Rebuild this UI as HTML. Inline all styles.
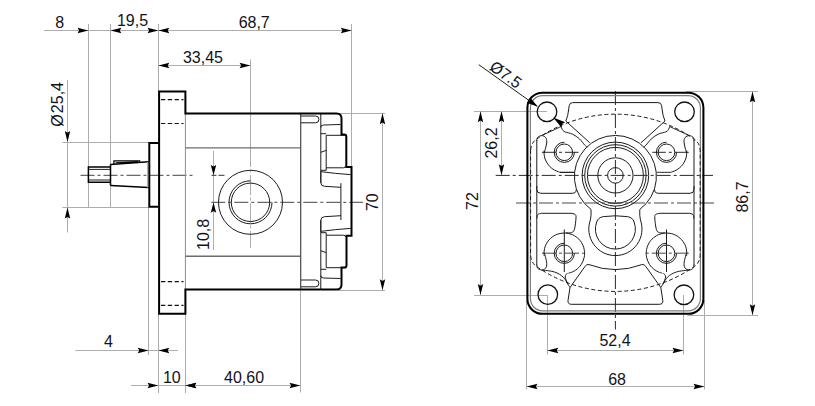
<!DOCTYPE html>
<html><head><meta charset="utf-8"><title>Gear pump dimensions</title>
<style>
html,body{margin:0;padding:0;background:#fff;}
svg{display:block}
text{font-family:"Liberation Sans",Arial,sans-serif;font-size:16px;fill:#12121a;}
.g{stroke:#adadad;stroke-width:1;fill:none}
.k{stroke:#1c1c1c;stroke-width:1;fill:none}
.k13{stroke:#111;stroke-width:1.3;fill:none}
.k3{stroke:#8c8c8c;stroke-width:1;fill:none}
.k4{stroke:#484848;stroke-width:1.2;fill:none}
.k2{stroke:#6c6c6c;stroke-width:1.35;fill:none}
.t{stroke:#000;stroke-width:2.0;fill:none;stroke-linejoin:miter}
.t24{stroke:#000;stroke-width:2.05;fill:none}
.pin{stroke:#7d7d7d;stroke-width:1.2;fill:none}
.clg{stroke:#adadad;stroke-width:1;fill:none;stroke-dasharray:20 2.5 3 2.5}
.sd{stroke:#333;stroke-width:1;fill:none;stroke-dasharray:5 2 6 2}
.t17{stroke:#000;stroke-width:1.5;fill:none}
.t12{stroke:#000;stroke-width:1.2;fill:none}
.hd2{stroke:#111;stroke-width:1.2;fill:none;stroke-dasharray:4.3 2.5}
.hd{stroke:#1c1c1c;stroke-width:1;fill:none;stroke-dasharray:4 2.6}
.cl{stroke:#444;stroke-width:1;fill:none;stroke-dasharray:14 3 3 3}
.clm{stroke:#858585;stroke-width:1.5;fill:none;stroke-dasharray:14 3 3 3}
.clk{stroke:#2a2a2a;stroke-width:1;fill:none;stroke-dasharray:14 3 3 3}
.ah{fill:#000;stroke:none}
</style></head>
<body>
<svg width="815" height="406" viewBox="0 0 815 406">
<rect width="815" height="406" fill="#fff"/>
<line x1="88.5" y1="24.0" x2="88.5" y2="207.6" class="g"/>
<line x1="110.5" y1="24.0" x2="110.5" y2="207.6" class="g"/>
<line x1="158.5" y1="24.0" x2="158.5" y2="91.0" class="g"/>
<line x1="351.5" y1="24.0" x2="351.5" y2="167.0" class="g"/>
<line x1="250.5" y1="59.5" x2="250.5" y2="147.0" class="g"/>
<line x1="44.0" y1="30.5" x2="351.7" y2="30.5" class="g"/>
<polygon class="ah" points="88.4,30.5 77.5,33.2 79.1,30.5 77.5,27.8"/>
<polygon class="ah" points="110.5,30.5 121.4,27.8 119.8,30.5 121.4,33.2"/>
<polygon class="ah" points="158.4,30.5 147.5,33.2 149.1,30.5 147.5,27.8"/>
<polygon class="ah" points="158.4,30.5 169.3,27.8 167.7,30.5 169.3,33.2"/>
<polygon class="ah" points="351.7,30.5 340.8,33.2 342.4,30.5 340.8,27.8"/>
<line x1="158.4" y1="65.5" x2="250.5" y2="65.5" class="g"/>
<polygon class="ah" points="158.4,65.5 169.3,62.8 167.7,65.5 169.3,68.2"/>
<polygon class="ah" points="250.5,65.5 239.6,68.2 241.2,65.5 239.6,62.8"/>
<text x="59.7" y="27.9" text-anchor="middle">8</text>
<text x="132.5" y="26.2" text-anchor="middle">19,5</text>
<text x="254.2" y="27.9" text-anchor="middle">68,7</text>
<text x="203.0" y="62.5" text-anchor="middle">33,45</text>
<line x1="67.5" y1="80.0" x2="67.5" y2="232.5" class="g"/>
<line x1="62.5" y1="142.5" x2="149.0" y2="142.5" class="g"/>
<line x1="62.5" y1="207.5" x2="149.0" y2="207.5" class="g"/>
<polygon class="ah" points="67.5,142.0 64.8,131.1 67.5,132.7 70.2,131.1"/>
<polygon class="ah" points="67.5,207.6 70.2,218.5 67.5,216.9 64.8,218.5"/>
<text transform="translate(62.6,104.4) rotate(-90)" text-anchor="middle">Ø<tspan dx="1.2">25,4</tspan></text>
<line x1="338.0" y1="113.5" x2="385.0" y2="113.5" class="g"/>
<line x1="338.0" y1="290.5" x2="385.0" y2="290.5" class="g"/>
<line x1="382.5" y1="113.3" x2="382.5" y2="290.2" class="g"/>
<polygon class="ah" points="382.5,113.3 385.2,124.2 382.5,122.6 379.8,124.2"/>
<polygon class="ah" points="382.5,290.2 379.8,279.3 382.5,280.9 385.2,279.3"/>
<text transform="translate(378.0,202.2) rotate(-90)" text-anchor="middle">70</text>
<line x1="148.5" y1="208.0" x2="148.5" y2="355.0" class="g"/>
<line x1="158.5" y1="314.0" x2="158.5" y2="393.0" class="g"/>
<line x1="185.5" y1="314.0" x2="185.5" y2="393.0" class="g"/>
<line x1="300.5" y1="290.0" x2="300.5" y2="392.5" class="g"/>
<line x1="75.4" y1="350.5" x2="178.0" y2="350.5" class="g"/>
<polygon class="ah" points="148.6,350.5 137.7,353.2 139.3,350.5 137.7,347.8"/>
<polygon class="ah" points="158.4,350.5 169.3,347.8 167.7,350.5 169.3,353.2"/>
<line x1="131.2" y1="385.5" x2="300.4" y2="385.5" class="g"/>
<polygon class="ah" points="158.4,385.5 147.5,388.2 149.1,385.5 147.5,382.8"/>
<polygon class="ah" points="185.4,385.5 196.3,382.8 194.7,385.5 196.3,388.2"/>
<polygon class="ah" points="185.4,385.5 196.3,382.8 194.7,385.5 196.3,388.2"/>
<polygon class="ah" points="300.4,385.5 289.5,388.2 291.1,385.5 289.5,382.8"/>
<text x="108.5" y="346.7" text-anchor="middle">4</text>
<text x="171.8" y="383.3" text-anchor="middle">10</text>
<text x="244.1" y="383.3" text-anchor="middle">40,60</text>
<line x1="213.5" y1="151.0" x2="213.5" y2="250.0" class="g"/>
<path d="M211.5,175.3H224.8" class="sd"/>
<polygon class="ah" points="213.5,175.3 210.8,164.9 213.5,166.5 216.2,164.9"/>
<polygon class="ah" points="213.5,202.3 216.2,212.7 213.5,211.1 210.8,212.7"/>
<text transform="translate(209.0,234.4) rotate(-90)" text-anchor="middle">10,8</text>
<path d="M80.5,175.3H195.5" class="cl"/>
<path d="M211.3,202.3H363" class="cl"/>
<path d="M250.5,147V248" class="clg"/>
<line x1="185.4" y1="113.5" x2="185.4" y2="289.5" class="k3"/>
<line x1="185.4" y1="147.8" x2="300.7" y2="147.8" class="k2"/>
<line x1="185.4" y1="256.3" x2="300.7" y2="256.3" class="k2"/>
<line x1="300.7" y1="113.5" x2="300.7" y2="289.5" class="k4"/>
<line x1="320.8" y1="113.5" x2="320.8" y2="183.0" class="k"/>
<line x1="320.8" y1="220.0" x2="320.8" y2="289.5" class="k"/>
<path d="M161,99.6H183.5" class="hd2"/>
<path d="M161,123.5H183.5" class="hd2"/>
<path d="M161,281.6H183.5" class="hd2"/>
<path d="M161,305.4H183.5" class="hd2"/>
<path d="M301,116H315.5a3.4,3.4 0 0 1 0,6.8H301" class="k"/>
<path d="M301,280H315.5a3.4,3.4 0 0 1 0,6.8H301" class="k"/>
<circle cx="250.5" cy="202.3" r="32.0" class="k"/>
<circle cx="250.5" cy="202.3" r="19.2" class="k"/>
<path d="M250.5,180.8A21.5,21.5 0 1 0 272.0,202.3" class="k"/>
<path d="M320.8,127.5Q320.8,125.0 323.5,125.0L340.5,124.5" class="k"/>
<path d="M326.2,135.3H345" class="k"/>
<path d="M326.2,135.3V170.3" class="k"/>
<path d="M320.8,133.7H326.2" class="k"/>
<path d="M320.8,152.3L326.2,150.4" class="k"/>
<path d="M320.8,170.3H326.2M326.2,167.8H343.5Q345.3,167.8 345.6,166.0" class="k"/>
<path d="M321.2,171.7Q335,173.6 350.5,174.6" class="k"/>
<path d="M320.8,171.0V182.5Q320.8,186.2 324.5,186.3L340.9,187.3" class="k"/>
<path d="M320.8,275.5Q320.8,278.0 323.5,278.0L340.5,278.5" class="k"/>
<path d="M326.2,267.7H345" class="k"/>
<path d="M326.2,267.7V232.7" class="k"/>
<path d="M320.8,269.3H326.2" class="k"/>
<path d="M320.8,250.7L326.2,252.6" class="k"/>
<path d="M320.8,232.7H326.2M326.2,235.2H343.5Q345.3,235.2 345.6,237.0" class="k"/>
<path d="M321.2,231.3Q335,229.4 350.5,228.4" class="k"/>
<path d="M320.8,232.0V220.5Q320.8,216.8 324.5,216.7L340.9,215.7" class="k"/>
<line x1="340.9" y1="183.2" x2="340.9" y2="220.0" class="k"/>
<path d="M149.3,143.1H159.1M149.3,206.7H159.1M149.3,142.1V207.7" class="t"/>
<path d="M159.1,91.6H185.4V113.5H336.5Q341.5,113.5 341.5,118.5V134.6H344.2Q346.3,134.6 346.3,136.7V167H351.5V235.8H346.5V265.4Q346.5,267.5 344.4,267.5H341.5V284.5Q341.5,289.5 336.5,289.5H185.4V313.7H159.1Z" class="t"/>
<path d="M110.5,167H88.4V182.3H110.5" class="t17"/>
<path d="M88.4,169.4H110.5M88.4,180H110.5" class="k"/>
<path d="M110.5,164.4V185.4" class="t17"/>
<path d="M110.5,164.4L148.6,161.8M110.5,185.4L148.6,187.5" class="t17"/>
<path d="M113.9,164.2V160.9H139.7V162.3M115.7,162.9L137.9,162.1" class="t12"/>
<line x1="147.5" y1="162.0" x2="147.5" y2="187.4" class="g"/>
<line x1="474.0" y1="111.5" x2="547.0" y2="111.5" class="g"/>
<line x1="474.0" y1="295.5" x2="547.4" y2="295.5" class="g"/>
<line x1="480.5" y1="111.3" x2="480.5" y2="295.0" class="g"/>
<polygon class="ah" points="480.5,111.3 483.2,122.2 480.5,120.6 477.8,122.2"/>
<polygon class="ah" points="480.5,295.0 477.8,284.1 480.5,285.7 483.2,284.1"/>
<line x1="501.5" y1="111.3" x2="501.5" y2="175.2" class="g"/>
<polygon class="ah" points="501.5,111.3 504.2,122.2 501.5,120.6 498.8,122.2"/>
<polygon class="ah" points="501.5,175.2 498.8,164.3 501.5,165.9 504.2,164.3"/>
<text transform="translate(497.0,143.0) rotate(-90)" text-anchor="middle">26,2</text>
<text transform="translate(478.0,201.0) rotate(-90)" text-anchor="middle">72</text>
<line x1="686.0" y1="91.5" x2="758.0" y2="91.5" class="g"/>
<line x1="687.5" y1="315.5" x2="758.0" y2="315.5" class="g"/>
<line x1="752.5" y1="91.4" x2="752.5" y2="315.2" class="g"/>
<polygon class="ah" points="752.5,91.4 755.2,102.3 752.5,100.7 749.8,102.3"/>
<polygon class="ah" points="752.5,315.2 749.8,304.3 752.5,305.9 755.2,304.3"/>
<text transform="translate(747.8,197.0) rotate(-90)" text-anchor="middle">86,7</text>
<line x1="547.5" y1="295.0" x2="547.5" y2="354.5" class="g"/>
<line x1="683.5" y1="295.0" x2="683.5" y2="354.5" class="g"/>
<line x1="547.4" y1="350.5" x2="683.4" y2="350.5" class="g"/>
<polygon class="ah" points="547.4,350.5 558.3,347.8 556.7,350.5 558.3,353.2"/>
<polygon class="ah" points="683.4,350.5 672.5,353.2 674.1,350.5 672.5,347.8"/>
<line x1="526.5" y1="300.0" x2="526.5" y2="389.5" class="g"/>
<line x1="704.5" y1="300.0" x2="704.5" y2="389.5" class="g"/>
<line x1="526.6" y1="386.5" x2="704.4" y2="386.5" class="g"/>
<polygon class="ah" points="526.6,386.5 537.5,383.8 535.9,386.5 537.5,389.2"/>
<polygon class="ah" points="704.4,386.5 693.5,389.2 695.1,386.5 693.5,383.8"/>
<text x="615.0" y="345.6" text-anchor="middle">52,4</text>
<text x="617.1" y="385.3" text-anchor="middle">68</text>
<path d="M615.4,91V329.5" class="clk"/>
<path d="M495.7,175.4H713" class="clk"/>
<path d="M516,203.10000000000002H716" class="clm"/>
<path d="M542,152.3H578.5" class="clk"/>
<path d="M688.8,152.3H652.3" class="clk"/>
<path d="M542,253.3H585.3" class="clm"/>
<path d="M688.8,253.3H645.5" class="clm"/>
<path d="M564.3,229.5V272" class="k"/>
<path d="M666.5,229.5V272" class="k"/>
<path d="M542.4,92.7H688.4A15,15 0 0 1 703.4,107.7V298.8A15,15 0 0 1 688.4,313.8H542.4A15,15 0 0 1 527.4,298.8V107.7A15,15 0 0 1 542.4,92.7Z" class="t24"/>
<path d="M542.6,95.7H688.1999999999999A12.2,12.2 0 0 1 700.4,107.9V298.6A12.2,12.2 0 0 1 688.1999999999999,310.8H542.6A12.2,12.2 0 0 1 530.4,298.6V107.9A12.2,12.2 0 0 1 542.6,95.7Z" class="pin"/>
<path d="M530.6,150.1Q531.4,142.4 536.6,139.1A137,137 0 0 1 694.2,139.1Q699.4,142.4 700.2,150.1V255.5Q699.4,263.2 694.2,266.5A137,137 0 0 1 536.6,266.5Q531.4,263.2 530.6,255.5Z" class="hd"/>
<circle cx="547.0" cy="111.8" r="9.8" class="k13"/>
<circle cx="684.5" cy="111.8" r="9.8" class="k13"/>
<circle cx="547.8" cy="294.6" r="9.8" class="k13"/>
<circle cx="683.9" cy="294.8" r="9.8" class="k13"/>
<circle cx="615.4" cy="175.4" r="7.8" class="k"/>
<circle cx="615.4" cy="175.4" r="17.6" class="k"/>
<circle cx="615.4" cy="175.4" r="28.0" class="k"/>
<circle cx="615.4" cy="175.4" r="30.7" class="k"/>
<circle cx="615.4" cy="175.4" r="33.3" class="k"/>
<circle cx="564.3" cy="152.3" r="8.3" class="k"/>
<path d="M564.3,142.20000000000002A10.1,10.1 0 1 0 574.4,152.3" class="k"/>
<circle cx="564.3" cy="253.3" r="8.3" class="k"/>
<path d="M564.3,243.20000000000002A10.1,10.1 0 1 0 574.4,253.3" class="k"/>
<circle cx="666.5" cy="152.3" r="8.3" class="k"/>
<path d="M666.5,142.20000000000002A10.1,10.1 0 1 0 676.6,152.3" class="k"/>
<circle cx="666.5" cy="253.3" r="8.3" class="k"/>
<path d="M666.5,243.20000000000002A10.1,10.1 0 1 0 676.6,253.3" class="k"/>
<path d="M565.8,121Q568,116 568.6,110L569.2,105.6Q569.6,102.6 572.8,102.6H658.0Q661.2,102.6 661.6,105.6L662.2,110Q662.8,116 665.0,121" class="k"/>
<path d="M565.8,121.0L589.8,142.8" class="k"/>
<path d="M665.0,121.0L641.0,142.8" class="k"/>
<path d="M589,264.6Q586.6,264 585.2,266.2L570,287.5L568,300.5Q567.6,304.3 571.5,304.3H659.3Q663.2,304.3 662.8,300.5L660.8,287.5L645.6,266.2Q644.2,264 641.8,264.6" class="k"/>
<path d="M589,264.6Q615.4,274.6 641.8,264.6" class="k"/>
<path d="M590.4,219.9Q591.4,215.6 591.0,209.4A41.0,41.0 0 1 1 639.8,209.4Q639.4,215.6 640.4,219.9A26.6,26.6 0 1 1 590.4,219.9" class="k"/>
<path d="M596.7,222Q597.8,217.6 603.4,216.6Q615.4,215 627.4,216.6Q633.0,217.6 634.1,222A20.0,20.0 0 1 1 596.7,222Z" class="k"/>
<line x1="536.8" y1="140.0" x2="536.8" y2="265.6" class="k"/>
<line x1="694.0" y1="140.0" x2="694.0" y2="265.6" class="k"/>
<path d="M536.8,141.0 C536.9,140.4 536.8,138.3 537.6,137.4 C538.4,136.5 540.2,135.6 541.5,135.6 C542.8,135.6 544.7,136.3 545.6,137.4 C546.5,138.5 546.8,140.2 546.8,142.0 C546.8,143.8 546.0,146.2 545.6,148.0 C545.2,149.8 544.4,152.2 544.2,153.0" class="k"/>
<path d="M694.0,141.0 C693.9,140.4 694.0,138.3 693.2,137.4 C692.4,136.5 690.6,135.6 689.3,135.6 C688.0,135.6 686.1,136.3 685.2,137.4 C684.3,138.5 684.0,140.2 684.0,142.0 C684.0,143.8 684.8,146.2 685.2,148.0 C685.6,149.8 686.4,152.2 686.6,153.0" class="k"/>
<path d="M536.8,264.6 C536.9,265.2 536.8,267.3 537.6,268.2 C538.4,269.1 540.2,270.0 541.5,270.0 C542.8,270.0 544.7,269.3 545.6,268.2 C546.5,267.1 546.8,265.4 546.8,263.6 C546.8,261.8 546.0,259.4 545.6,257.6 C545.2,255.8 544.4,253.4 544.2,252.6" class="k"/>
<path d="M694.0,264.6 C693.9,265.2 694.0,267.3 693.2,268.2 C692.4,269.1 690.6,270.0 689.3,270.0 C688.0,270.0 686.1,269.3 685.2,268.2 C684.3,267.1 684.0,265.4 684.0,263.6 C684.0,261.8 684.8,259.4 685.2,257.6 C685.6,255.8 686.4,253.4 686.6,252.6" class="k"/>
<path d="M544.1,150.5 C544.1,150.9 544.0,152.0 544.0,152.7 C544.0,153.4 544.1,154.1 544.2,154.8 C544.2,155.5 544.4,156.2 544.5,156.9 C544.7,157.6 544.9,158.3 545.1,159.0 C545.4,159.7 545.6,160.3 546.0,161.0 C546.3,161.6 546.6,162.3 547.0,162.9 C547.4,163.5 547.8,164.1 548.2,164.7 C548.6,165.2 549.1,165.8 549.6,166.3 C550.1,166.8 550.6,167.3 551.2,167.8 C551.7,168.2 552.3,168.7 552.9,169.1 C553.5,169.5 554.1,169.8 554.7,170.2 C555.3,170.5 556.0,170.8 556.6,171.1 C557.3,171.4 558.0,171.6 558.7,171.8 C559.4,172.0 558.6,172.2 560.8,172.3 C562.9,172.4 569.3,172.3 571.5,172.3 C573.7,172.3 573.6,172.4 574.0,172.4" class="k"/>
<path d="M686.7,150.5 C686.7,150.9 686.8,152.0 686.8,152.7 C686.8,153.4 686.7,154.1 686.6,154.8 C686.6,155.5 686.4,156.2 686.3,156.9 C686.1,157.6 685.9,158.3 685.7,159.0 C685.4,159.7 685.2,160.3 684.8,161.0 C684.5,161.6 684.2,162.3 683.8,162.9 C683.4,163.5 683.0,164.1 682.6,164.7 C682.2,165.2 681.7,165.8 681.2,166.3 C680.7,166.8 680.2,167.3 679.6,167.8 C679.1,168.2 678.5,168.7 677.9,169.1 C677.3,169.5 676.7,169.8 676.1,170.2 C675.5,170.5 674.8,170.8 674.2,171.1 C673.5,171.4 672.8,171.6 672.1,171.8 C671.4,172.0 672.2,172.2 670.0,172.3 C667.9,172.4 661.5,172.3 659.3,172.3 C657.1,172.3 657.2,172.4 656.8,172.4" class="k"/>
<path d="M544.2,256.1 C544.2,255.5 544.0,253.5 544.0,252.2 C544.1,250.9 544.3,249.6 544.6,248.3 C544.9,247.1 545.4,245.8 545.9,244.6 C546.5,243.5 547.2,242.3 547.9,241.3 C548.7,240.2 549.6,239.2 550.6,238.4 C551.5,237.5 552.6,236.7 553.7,236.0 C554.8,235.3 556.0,234.7 557.2,234.3 C558.4,233.8 559.7,233.5 561.0,233.3 C562.3,233.1 563.6,233.0 564.9,233.0 C566.2,233.0 567.5,233.2 568.8,233.5 C570.1,233.8 571.3,234.2 572.5,234.7 C573.7,235.3 574.9,235.9 575.9,236.7 C577.0,237.4 578.0,238.3 578.9,239.2 C579.8,240.2 580.7,241.2 581.4,242.3 C582.1,243.4 582.7,244.6 583.2,245.8 C583.6,247.0 584.0,248.3 584.2,249.5 C584.5,250.8 584.6,252.1 584.6,253.4 C584.6,254.7 584.5,256.1 584.2,257.3 C583.9,258.6 583.5,259.9 583.0,261.1 C582.5,262.3 581.9,263.5 581.2,264.6 C580.5,265.6 579.6,266.7 578.7,267.6 C577.8,268.5 576.8,269.4 575.7,270.1 C574.6,270.8 573.5,271.5 572.3,272.0 C571.1,272.5 569.1,273.0 568.5,273.2" class="k"/>
<path d="M686.6,256.1 C686.6,255.5 686.8,253.5 686.8,252.2 C686.7,250.9 686.5,249.6 686.2,248.3 C685.9,247.1 685.4,245.8 684.9,244.6 C684.3,243.5 683.6,242.3 682.9,241.3 C682.1,240.2 681.2,239.2 680.2,238.4 C679.3,237.5 678.2,236.7 677.1,236.0 C676.0,235.3 674.8,234.7 673.6,234.3 C672.4,233.8 671.1,233.5 669.8,233.3 C668.5,233.1 667.2,233.0 665.9,233.0 C664.6,233.0 663.3,233.2 662.0,233.5 C660.7,233.8 659.5,234.2 658.3,234.7 C657.1,235.3 655.9,235.9 654.9,236.7 C653.8,237.4 652.8,238.3 651.9,239.2 C651.0,240.2 650.1,241.2 649.4,242.3 C648.7,243.4 648.1,244.6 647.6,245.8 C647.2,247.0 646.8,248.3 646.6,249.5 C646.3,250.8 646.2,252.1 646.2,253.4 C646.2,254.7 646.3,256.1 646.6,257.3 C646.9,258.6 647.3,259.9 647.8,261.1 C648.3,262.3 648.9,263.5 649.6,264.6 C650.3,265.6 651.2,266.7 652.1,267.6 C653.0,268.5 654.0,269.4 655.1,270.1 C656.2,270.8 657.3,271.5 658.5,272.0 C659.7,272.5 661.7,273.0 662.3,273.2" class="k"/>
<path d="M541.5,135.6 C543.2,134.8 548.6,132.3 551.9,130.8 C555.2,129.3 559.7,127.2 561.2,126.5" class="k"/>
<path d="M689.3,135.6 C687.6,134.8 682.2,132.3 678.9,130.8 C675.6,129.3 671.1,127.2 669.6,126.5" class="k"/>
<path d="M561.2,126.5 C561.4,127.0 561.6,128.5 562.2,129.4 C562.8,130.3 563.1,131.0 564.8,131.8 C566.5,132.6 570.2,133.0 572.6,134.2 C575.0,135.4 577.4,137.0 579.4,138.8 C581.4,140.6 583.5,143.8 584.8,145.2 C586.1,146.6 586.9,146.7 587.3,147.0" class="k"/>
<path d="M669.6,126.5 C669.4,127.0 669.2,128.5 668.6,129.4 C668.0,130.3 667.7,131.0 666.0,131.8 C664.3,132.6 660.6,133.0 658.2,134.2 C655.8,135.4 653.4,137.0 651.4,138.8 C649.4,140.6 647.3,143.8 646.0,145.2 C644.7,146.6 643.9,146.7 643.5,147.0" class="k"/>
<path d="M541.5,270.0 C543.7,270.3 550.9,270.8 554.5,272.0 C558.1,273.2 560.9,274.9 563.1,277.0 C565.4,279.1 566.9,282.6 568.0,284.3 C569.1,286.1 569.7,287.0 570.0,287.5" class="k"/>
<path d="M689.3,270.0 C687.1,270.3 679.9,270.8 676.3,272.0 C672.7,273.2 669.9,274.9 667.7,277.0 C665.4,279.1 663.9,282.6 662.8,284.3 C661.6,286.1 661.1,287.0 660.8,287.5" class="k"/>
<path d="M567.5,273.0 C567.1,273.7 565.1,275.1 565.2,277.0 C565.3,278.9 567.5,283.1 568.0,284.3" class="k"/>
<path d="M663.3,273.0 C663.7,273.7 665.7,275.1 665.6,277.0 C665.5,278.9 663.3,283.1 662.8,284.3" class="k"/>
<path d="M574.3,172.4H560A0,0 0 0 0 560,172.4M536.8,186V189.3Q536.8,193.3 540.8,193.3H572Q576.5,193.3 576.2,189.5" class="k"/>
<path d="M694.0,186V189.3Q694.0,193.3 690.0,193.3H658.8Q654.3,193.3 654.6,189.5" class="k"/>
<path d="M536.8,218.5 C537.0,217.8 537.0,215.5 537.8,214.6 C538.6,213.7 540.9,213.5 541.5,213.3" class="k"/>
<path d="M694.0,218.5 C693.8,217.8 693.8,215.5 693.0,214.6 C692.2,213.7 689.9,213.5 689.3,213.3" class="k"/>
<path d="M541.5,213.3L571.0,213.3" class="k"/>
<path d="M689.3,213.3L659.8,213.3" class="k"/>
<path d="M571.0,213.3 C571.7,213.5 574.4,213.7 575.2,214.5 C576.0,215.3 576.1,215.5 576.0,218.0 C575.9,220.5 575.1,227.1 574.4,229.5 C573.6,231.9 572.9,232.0 571.5,232.6 C570.1,233.2 566.9,232.8 566.0,232.9" class="k"/>
<path d="M659.8,213.3 C659.1,213.5 656.4,213.7 655.6,214.5 C654.8,215.3 654.7,215.5 654.8,218.0 C654.9,220.5 655.6,227.1 656.4,229.5 C657.1,231.9 657.9,232.0 659.3,232.6 C660.7,233.2 663.9,232.8 664.8,232.9" class="k"/>
<line x1="478.8" y1="64.7" x2="537.0" y2="106.2" class="k"/>
<polygon class="ah" points="537.9,106.8 526.8,102.7 529.9,101.1 530.4,97.7"/>
<polygon class="ah" points="553.2,117.6 565.2,122.2 562.0,123.9 561.4,127.4"/>
<text transform="translate(488.5,69.0) rotate(35.4)" text-anchor="start">Ø7.5</text>
</svg>
</body></html>
